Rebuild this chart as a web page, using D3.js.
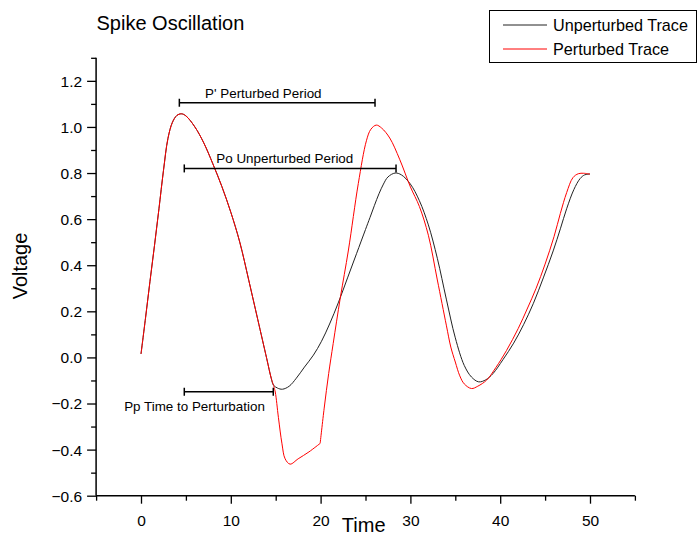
<!DOCTYPE html>
<html><head><meta charset="utf-8">
<script src="https://cdn.jsdelivr.net/npm/d3@7"></script>
<style>
body{margin:0;background:#fff;}
svg text{font-family:"Liberation Sans",Arial,Helvetica,sans-serif;fill:#000;}
</style>
</head><body>
<svg id="chart" width="699" height="535"></svg>
<script>
// ---- data ----
const chartTitle = "Spike Oscillation";
const xLabel = "Time";
const yLabel = "Voltage";
const seriesNames = ["Unperturbed Trace", "Perturbed Trace"];

const xMajorTicks = [0, 10, 20, 30, 40, 50];
const xMinorTicks = [-5, 5, 15, 25, 35, 45, 55];
const yMajorTicks = [-0.6, -0.4, -0.2, 0.0, 0.2, 0.4, 0.6, 0.8, 1.0, 1.2];
const yMinorTicks = [-0.5, -0.3, -0.1, 0.1, 0.3, 0.5, 0.7, 0.9, 1.1, 1.3];

// common part of both traces (before the perturbation)
const sharedTime    = [0, 0.5, 1, 1.5, 2, 2.5, 3, 3.5, 4, 4.5, 5, 6, 7, 8, 9, 10, 11, 12, 13, 14, 14.5, 14.75];
const sharedVoltage = [0.015, 0.17, 0.33, 0.485, 0.645, 0.81, 0.95, 1.02, 1.05, 1.057, 1.048, 1.0, 0.93, 0.84, 0.742, 0.63, 0.50, 0.335, 0.165, -0.005, -0.09, -0.12];

const unperturbedTime    = [15.2, 15.75, 16.5, 17.3, 18.2, 19.2, 20.1, 21.0, 22.0, 23.0, 24.0, 25.0, 25.5, 26.0, 26.5, 27.0, 27.5, 28.3, 29.0, 30.0, 31.0, 32.0, 33.0, 34.0, 35.0, 36.0, 36.8, 37.6, 38.4, 39.2, 40.3, 41.5, 42.6, 43.7, 44.8, 45.9, 46.7, 47.4, 48.2, 48.9, 49.4, 50.0];
const unperturbedVoltage = [-0.133, -0.138, -0.125, -0.09, -0.042, 0.01, 0.07, 0.145, 0.24, 0.345, 0.45, 0.555, 0.607, 0.66, 0.71, 0.752, 0.783, 0.80, 0.792, 0.752, 0.68, 0.575, 0.43, 0.253, 0.085, -0.035, -0.085, -0.106, -0.097, -0.07, -0.01, 0.062, 0.142, 0.235, 0.345, 0.462, 0.558, 0.645, 0.728, 0.776, 0.792, 0.796];

const perturbedTime    = [14.95, 15.3, 15.7, 16.05, 16.6, 17.5, 18.7, 19.95, 20.4, 20.9, 21.4, 22.2, 23.1, 24.2, 25.1, 25.6, 26.2, 26.8, 27.7, 28.8, 30.0, 31.0, 32.0, 33.0, 34.0, 34.5, 35.0, 35.5, 36.0, 36.8, 37.5, 38.5, 39.5, 40.7, 42.0, 43.0, 44.0, 45.0, 46.0, 46.7, 47.4, 48.1, 48.7, 49.3, 50.0];
const perturbedVoltage = [-0.15, -0.26, -0.375, -0.44, -0.463, -0.44, -0.41, -0.373, -0.22, -0.07, 0.06, 0.26, 0.466, 0.755, 0.94, 0.99, 1.008, 0.995, 0.952, 0.86, 0.74, 0.655, 0.53, 0.336, 0.14, 0.045, -0.02, -0.08, -0.115, -0.135, -0.125, -0.098, -0.045, 0.03, 0.125, 0.21, 0.30, 0.405, 0.525, 0.625, 0.715, 0.78, 0.797, 0.799, 0.795];
// times where the perturbed trace has a sharp corner
const perturbedCorners = [14.75, 19.95];

// annotation brackets (data units)
const annotationLabels = ["P' Perturbed Period", "Po Unperturbed Period", "Pp Time to Perturbation"];
const annotationStart  = [4.27, 4.82, 4.82];
const annotationEnd    = [26.06, 28.4, 14.73];
const annotationLevel  = [1.105, 0.82, -0.149];
const annotationLabelX = [13.62, 16.01, 5.96];

// ---- drawing ----
const svg = d3.select("#chart");
const x = d3.scaleLinear().domain([-5, 55]).range([96.1, 634.9]);
const y = d3.scaleLinear().domain([-0.6, 1.3]).range([495.7, 57.8]);

const axisColor = "#000";
const fontFam = '"Liberation Sans",Arial,sans-serif';
// x axis
const gx = svg.append("g").attr("transform", `translate(0,${y(-0.6)})`);
gx.append("g").call(d3.axisBottom(x).tickValues(xMinorTicks).tickSize(5).tickFormat("").tickSizeOuter(0))
  .call(g => g.select(".domain").remove());
gx.append("g").call(d3.axisBottom(x).tickValues(xMajorTicks).tickSize(8).tickSizeOuter(0).tickFormat(d3.format("d")))
  .call(g => g.select(".domain").remove())
  .call(g => g.selectAll("text").attr("font-size", "15.5px").attr("dy", null).attr("y", 30).style("font-family", fontFam));
gx.append("line").attr("x1", x(-5)).attr("x2", x(55)).attr("stroke", axisColor).attr("stroke-width", 1.5);

// y axis
const gy = svg.append("g").attr("transform", `translate(${x(-5)},0)`);
gy.append("g").call(d3.axisLeft(y).tickValues(yMinorTicks).tickSize(5).tickFormat("").tickSizeOuter(0))
  .call(g => g.select(".domain").remove());
gy.append("g").call(d3.axisLeft(y).tickValues(yMajorTicks).tickSize(9).tickSizeOuter(0).tickFormat(d3.format(".1f")))
  .call(g => g.select(".domain").remove())
  .call(g => g.selectAll("text").attr("font-size", "15.5px").attr("x", -14).attr("dy", "0.35em").style("font-family", fontFam));
gy.append("line").attr("y1", y(-0.6)).attr("y2", y(1.3)).attr("stroke", axisColor).attr("stroke-width", 1.5);
svg.selectAll(".tick line").attr("stroke", "#000").attr("stroke-width", 1.3);

// titles
svg.append("text").attr("x", 96.5).attr("y", 29.5).attr("font-size", "20px").text(chartTitle);
svg.append("text").attr("x", 363.7).attr("y", 532).attr("text-anchor", "middle").attr("font-size", "20px").text(xLabel);
svg.append("text").attr("transform", "translate(27,266) rotate(-90)").attr("text-anchor", "middle").attr("font-size", "20px").text(yLabel);

// lines
const line = d3.line().x(d => x(d[0])).y(d => y(d[1])).curve(d3.curveCatmullRom.alpha(0.5));
const sharedPts = sharedTime.map((t, i) => [t, sharedVoltage[i]]);
const unpPts = sharedPts.concat(unperturbedTime.map((t, i) => [t, unperturbedVoltage[i]]));
const perPts = sharedPts.concat(perturbedTime.map((t, i) => [t, perturbedVoltage[i]]));
const colors = ["#222", "#ff0000"];

// split perturbed trace at its corners so each piece is smooth on its own
const bounds = [-Infinity, ...perturbedCorners, Infinity];
const perSegments = [];
for (let k = 0; k < bounds.length - 1; k++) {
  perSegments.push(perPts.filter(p => p[0] >= bounds[k] && p[0] <= bounds[k + 1]));
}
const perPath = perSegments.map(s => line(s)).join("");

svg.append("path").datum(unpPts).attr("d", line).attr("fill", "none").attr("stroke", colors[0]).attr("stroke-width", 1);
svg.append("path").attr("d", perPath).attr("fill", "none").attr("stroke", colors[1]).attr("stroke-width", 1);

// annotations
annotationLabels.forEach((lab, i) => {
  const g = svg.append("g");
  const yy = y(annotationLevel[i]);
  g.append("line").attr("x1", x(annotationStart[i])).attr("x2", x(annotationEnd[i])).attr("y1", yy).attr("y2", yy)
    .attr("stroke", "#000").attr("stroke-width", 1.5);
  [annotationStart[i], annotationEnd[i]].forEach(v => {
    g.append("line").attr("x1", x(v)).attr("x2", x(v)).attr("y1", yy - 4).attr("y2", yy + 4)
      .attr("stroke", "#000").attr("stroke-width", 1.5);
  });
  const below = annotationLevel[i] < 0;
  g.append("text").attr("x", x(annotationLabelX[i])).attr("y", below ? yy + 19 : yy - 5)
    .attr("text-anchor", "middle").attr("font-size", "13.4px").text(lab);
});

// legend
const lg = svg.append("g");
lg.append("rect").attr("x", 489.5).attr("y", 10.5).attr("width", 207).attr("height", 52)
  .attr("fill", "#fff").attr("stroke", "#000").attr("stroke-width", 1);
seriesNames.forEach((n, i) => {
  const yy = 25 + i * 24;
  lg.append("line").attr("x1", 503).attr("x2", 547).attr("y1", yy).attr("y2", yy)
    .attr("stroke", colors[i]).attr("stroke-width", 1);
  lg.append("text").attr("x", 553).attr("y", yy + 6).attr("font-size", "16.2px").text(n);
});
</script>
</body></html>
